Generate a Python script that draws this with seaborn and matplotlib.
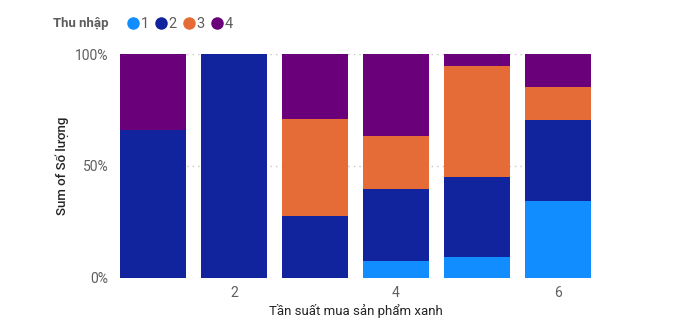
import matplotlib
matplotlib.use("Agg")
import matplotlib.pyplot as plt
from matplotlib.lines import Line2D
from matplotlib.ticker import PercentFormatter
import numpy as np
import pandas as pd
import seaborn as sns

# Purchase frequency categories (x axis)
frequency = [1, 2, 3, 4, 5, 6]
# Income groups (legend)
income_levels = ["1", "2", "3", "4"]
# Share (%) of "Số lượng" per income group within each frequency
share_1 = [0.0, 0.0, 0.0, 7.5, 9.4, 34.4]
share_2 = [66.0, 100.0, 27.7, 32.3, 35.8, 36.2]
share_3 = [0.0, 0.0, 43.4, 23.7, 49.4, 14.5]
share_4 = [34.0, 0.0, 28.9, 36.5, 5.4, 14.9]
xtick_values = [2, 4, 6]

palette = {"1": "#118DFF", "2": "#12239E", "3": "#E66C37", "4": "#6B007B"}

sns.set_theme(style="white")
plt.rcParams["font.family"] = ["Roboto", "DejaVu Sans"]

shares = np.array([share_1, share_2, share_3, share_4])
totals = shares.sum(axis=0)
cumulative = np.cumsum(shares / totals, axis=0)

df = pd.DataFrame({"freq": np.tile(frequency, 4),
                   "income": np.repeat(income_levels, len(frequency)),
                   "top": cumulative.ravel()})

bar_width = 0.81
x_lo, x_hi = 1 - bar_width / 2, 6 + bar_width / 2
px_per_unit = 81
fig = plt.figure(figsize=(6.76, 3.35), dpi=100)
left_px = 153 - bar_width / 2 * px_per_unit
ax = fig.add_axes([left_px / 676, 1 - 277.7 / 335,
                   (x_hi - x_lo) * px_per_unit / 676, (277.7 - 54) / 335])

# Draw stacked bars from the topmost segment down so lower segments overlay
for lvl in income_levels[::-1]:
    sub = df[df["income"] == lvl]
    sns.barplot(data=sub, x="freq", y="top", native_scale=True, width=bar_width,
                color=palette[lvl], linewidth=0, saturation=1, ax=ax, zorder=3)

ax.set_xlim(x_lo, x_hi)
ax.set_ylim(0, 1)
ax.set_yticks([0, 0.5, 1])
ax.yaxis.set_major_formatter(PercentFormatter(1.0, decimals=0))
ax.set_xticks(xtick_values)
ax.set_xticklabels([str(v) for v in xtick_values])
ax.grid(axis="y", linestyle=(0, (1, 3)), color="#C8C6C4", linewidth=1, zorder=0)
ax.grid(axis="x", visible=False)
for s in ax.spines.values():
    s.set_visible(False)
ax.tick_params(axis="both", length=0, labelsize=10, colors="#605E5C")
ax.tick_params(axis="y", pad=8.5)
ax.tick_params(axis="x", pad=6)

ax.set_xlabel("Tần suất mua sản phẩm xanh", fontsize=9.5, color="#252423", labelpad=3)
ax.set_ylabel("Sum of Số lượng", fontsize=9.5, color="#252423",
              fontweight="medium", labelpad=4)

# Legend header
fig.text(53 / 676, 1 - 24 / 335, "Thu nhập", fontsize=9.5, fontweight="bold",
         color="#605E5C", va="center", ha="left")
handles = [Line2D([0], [0], marker="o", linestyle="", markersize=9,
                  markerfacecolor=palette[l], markeredgewidth=0) for l in income_levels]
fig.legend(handles, income_levels, loc="center left",
           bbox_to_anchor=(126 / 676, 1 - 24 / 335), ncol=4, frameon=False,
           handletextpad=0.0, columnspacing=0.35, handlelength=1.0,
           fontsize=10.5, labelcolor="#605E5C", borderaxespad=0, borderpad=0)

fig.savefig("out.png", dpi=100)
